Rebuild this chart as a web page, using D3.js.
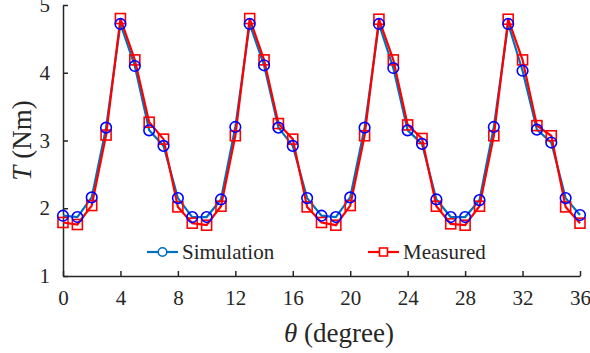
<!DOCTYPE html>
<html>
<head>
<meta charset="utf-8">
<script src="https://cdn.jsdelivr.net/npm/d3@7/dist/d3.min.js"></script>
</head>
<body style="margin:0; background:#fff">
<svg id="chart" width="590" height="353"></svg>
<script>
// angle samples (degree)
const angles = d3.range(0, 37);
const simulation = [1.89, 1.87, 2.16, 3.19, 4.72, 4.10, 3.15, 2.92, 2.15,
  1.87, 1.87, 2.13, 3.20, 4.72, 4.11, 3.19, 2.92, 2.15,
  1.89, 1.87, 2.16, 3.19, 4.72, 4.07, 3.15, 2.95, 2.13,
  1.87, 1.87, 2.12, 3.20, 4.72, 4.03, 3.16, 2.97, 2.15, 1.90];
const measured = [1.79, 1.76, 2.04, 3.08, 4.80, 4.19, 3.27, 3.02, 2.02,
  1.78, 1.75, 2.03, 3.07, 4.80, 4.19, 3.25, 3.02, 2.02,
  1.79, 1.75, 2.04, 3.07, 4.79, 4.19, 3.23, 3.03, 2.03,
  1.77, 1.75, 2.03, 3.07, 4.79, 4.19, 3.22, 3.07, 2.02, 1.78];
const xTicks = [0, 4, 8, 12, 16, 20, 24, 28, 32, 36];
const yTicks = [1, 2, 3, 4, 5];

const FONT = '"Liberation Serif"';
const axisColor = '#262626';

const svg = d3.select('#chart');
const x = d3.scaleLinear().domain([0, 36]).range([63, 580]);
const y = d3.scaleLinear().domain([1, 5]).range([276, 5]);

// x axis, ticks pointing in
const gx = svg.append('g').attr('transform', `translate(0,${y(1)})`)
  .call(d3.axisBottom(x).tickValues(xTicks).tickFormat(d3.format('d'))
    .tickSizeInner(-5).tickSizeOuter(0).tickPadding(14));
gx.attr('font-family', null).attr('font-size', null);
gx.select('.domain').attr('stroke', axisColor).attr('stroke-width', 1.5);
gx.selectAll('.tick line').attr('stroke', axisColor).attr('stroke-width', 1.5);
gx.selectAll('.tick text').style('font-family', FONT).style('font-size', '21px').attr('fill', axisColor);

// y axis
const gy = svg.append('g').attr('transform', `translate(${x(0)},0)`)
  .call(d3.axisLeft(y).tickValues(yTicks).tickFormat(d3.format('d'))
    .tickSizeInner(-5).tickSizeOuter(0).tickPadding(13));
gy.attr('font-family', null).attr('font-size', null);
gy.select('.domain').attr('stroke', axisColor).attr('stroke-width', 1.5);
gy.selectAll('.tick line').attr('stroke', axisColor).attr('stroke-width', 1.5);
gy.selectAll('.tick text').style('font-family', FONT).style('font-size', '21px').attr('fill', axisColor);

// axis titles
const xt = svg.append('text').attr('x', 339).attr('y', 342)
  .attr('text-anchor', 'middle').attr('fill', axisColor)
  .style('font-family', FONT).style('font-size', '27px');
xt.append('tspan').style('font-style', 'italic').text('θ');
xt.append('tspan').text(' (degree)');

const yt = svg.append('text')
  .attr('transform', `translate(31,${y(3)}) rotate(-90)`)
  .attr('text-anchor', 'middle').attr('fill', axisColor)
  .style('font-family', FONT).style('font-size', '27px');
yt.append('tspan').style('font-style', 'italic').text('T');
yt.append('tspan').text(' (Nm)');

const line = d3.line().x((d, i) => x(angles[i])).y((d) => y(d));

svg.append('path').datum(simulation).attr('d', line)
  .attr('fill', 'none').attr('stroke', '#0072BD').attr('stroke-width', 2.2);
svg.append('path').datum(measured).attr('d', line)
  .attr('fill', 'none').attr('stroke', '#FF0000').attr('stroke-width', 2.2);

svg.selectAll('.sq').data(measured).enter().append('rect')
  .attr('class', 'sq')
  .attr('x', (d, i) => x(angles[i]) - 5).attr('y', (d) => y(d) - 5)
  .attr('width', 10).attr('height', 10)
  .attr('fill', 'none').attr('stroke', '#FF0000').attr('stroke-width', 1.6);

svg.selectAll('.ci').data(simulation).enter().append('circle')
  .attr('class', 'ci')
  .attr('cx', (d, i) => x(angles[i])).attr('cy', (d) => y(d))
  .attr('r', 5.3)
  .attr('fill', 'none').attr('stroke', '#0000FF').attr('stroke-width', 1.6);

// legend
const legend = [
  { name: 'Simulation', color: '#0072BD', x0: 147, marker: 'circle' },
  { name: 'Measured', color: '#FF0000', x0: 368, marker: 'square' },
];
const ly = 252;
legend.forEach((l) => {
  svg.append('line').attr('x1', l.x0).attr('x2', l.x0 + 31).attr('y1', ly).attr('y2', ly)
    .attr('stroke', l.color).attr('stroke-width', 2.2);
  if (l.marker === 'circle') {
    svg.append('circle').attr('cx', l.x0 + 15.5).attr('cy', ly).attr('r', 4.3)
      .attr('fill', '#fff').attr('stroke', l.color).attr('stroke-width', 1.6);
  } else {
    svg.append('rect').attr('x', l.x0 + 11.5).attr('y', ly - 4).attr('width', 8).attr('height', 8)
      .attr('fill', '#fff').attr('stroke', l.color).attr('stroke-width', 1.6);
  }
  svg.append('text').attr('x', l.x0 + 35).attr('y', ly + 7).attr('fill', axisColor)
    .style('font-family', FONT).style('font-size', '21px').text(l.name);
});
</script>
</body>
</html>
